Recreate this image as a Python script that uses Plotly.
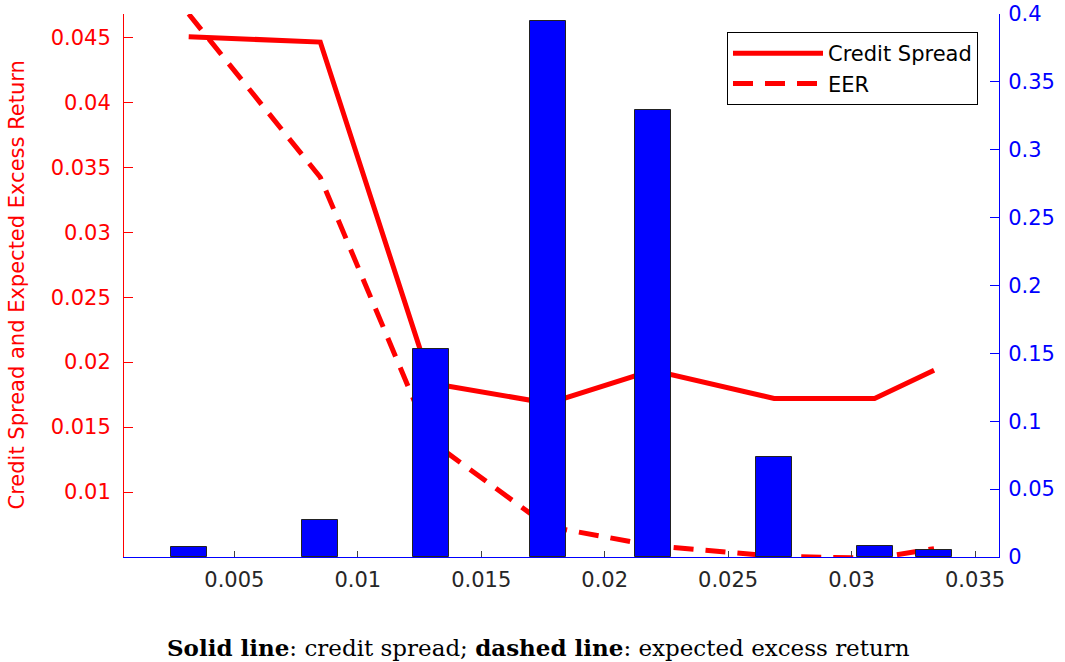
import plotly.graph_objects as go

# ---- data ----
x_vals = [0.00315, 0.00848, 0.01297, 0.01771, 0.02194, 0.02686, 0.03093, 0.03334]
bar_vals = [0.0076, 0.0272, 0.153, 0.395, 0.329, 0.0736, 0.0083, 0.0054]
credit_spread = [0.04505, 0.04464, 0.01838, 0.01683, 0.01937, 0.01721, 0.01721, 0.01938]
eer = [0.0468, 0.03423, 0.01392, 0.00735, 0.00588, 0.00506, 0.0049, 0.00564]

x_ticks = [0.005, 0.01, 0.015, 0.02, 0.025, 0.03, 0.035]
x_tick_text = ["0.005", "0.01", "0.015", "0.02", "0.025", "0.03", "0.035"]
yl_ticks = [0.01, 0.015, 0.02, 0.025, 0.03, 0.035, 0.04, 0.045]
yl_tick_text = ["0.01", "0.015", "0.02", "0.025", "0.03", "0.035", "0.04", "0.045"]
yr_ticks = [0, 0.05, 0.1, 0.15, 0.2, 0.25, 0.3, 0.35, 0.4]
yr_tick_text = ["0", "0.05", "0.1", "0.15", "0.2", "0.25", "0.3", "0.35", "0.4"]

W, H = 1065, 662
ML, MT = 124, 14
MR = W - 999
MB = H - 557
PW, PH = W - ML - MR, H - MT - MB

SANS = "DejaVu Sans, Arial, sans-serif"
FS = 21

fig = go.Figure()

fig.add_trace(go.Scatter(
    x=x_vals, y=credit_spread, mode="lines", name="Credit Spread",
    line=dict(color="#ff0000", width=5), yaxis="y"))
fig.add_trace(go.Scatter(
    x=x_vals, y=eer, mode="lines", name="EER",
    line=dict(color="#ff0000", width=5, dash="20px,12px"), yaxis="y"))
fig.add_trace(go.Bar(
    x=x_vals, y=bar_vals, width=0.00146, yaxis="y2", showlegend=False,
    marker=dict(color="#0000ff", line=dict(color="#222222", width=1))))

fig.update_layout(
    width=W, height=H,
    margin=dict(l=ML, r=MR, t=MT, b=MB, autoexpand=False),
    paper_bgcolor="white", plot_bgcolor="white",
    font=dict(family=SANS, size=FS),
    xaxis=dict(range=[0.00053, 0.03597], tickvals=x_ticks, ticktext=x_tick_text,
               showgrid=False, zeroline=False, showline=True, linecolor="#0000ff",
               linewidth=1, ticks="inside", ticklen=6, tickcolor="#404040",
               ticklabelstandoff=4,
               tickfont=dict(color="#262626", size=FS, family=SANS)),
    yaxis=dict(range=[0.005, 0.0468], tickvals=yl_ticks, ticktext=yl_tick_text,
               showgrid=False, zeroline=False, showline=True, linecolor="#ff0000",
               linewidth=1, ticks="inside", ticklen=9, tickcolor="#ff0000",
               ticklabelstandoff=8,
               tickfont=dict(color="#ff0000", size=FS, family=SANS)),
    yaxis2=dict(range=[0, 0.40005], tickvals=yr_ticks, ticktext=yr_tick_text,
                overlaying="y", side="right", anchor="x",
                showgrid=False, zeroline=False, showline=True, linecolor="#0000ff",
                linewidth=1, ticks="inside", ticklen=9, tickcolor="#0000ff",
                ticklabelstandoff=4, ticklabeloverflow="allow",
                tickfont=dict(color="#0000ff", size=FS, family=SANS)),
    legend=dict(x=(978 - ML) / PW, y=(557 - 32) / PH, xanchor="right", yanchor="top",
                bgcolor="white", bordercolor="#000000", borderwidth=1,
                font=dict(family=SANS, size=21, color="#000000"),
                tracegroupgap=0, itemwidth=90),
    bargap=0,
    showlegend=True,
)

# rotated left axis title
fig.add_annotation(
    text="Credit Spread and Expected Excess Return",
    xref="paper", yref="paper", x=(16 - ML) / PW, y=0.5,
    xanchor="center", yanchor="middle", textangle=-90, showarrow=False,
    font=dict(family=SANS, size=21, color="#ff0000"))

# caption below the chart
fig.add_annotation(
    text="<b>Solid line</b>: credit spread; <b>dashed line</b>: expected excess return",
    xref="paper", yref="paper", x=(538 - ML) / PW, y=(557 - 647) / PH,
    xanchor="center", yanchor="middle", showarrow=False,
    font=dict(family="DejaVu Serif, Liberation Serif, serif", size=23, color="#000000"))

fig.write_html("out.html", config={"displayModeBar": False},
               post_script="document.body.style.margin='0';")
